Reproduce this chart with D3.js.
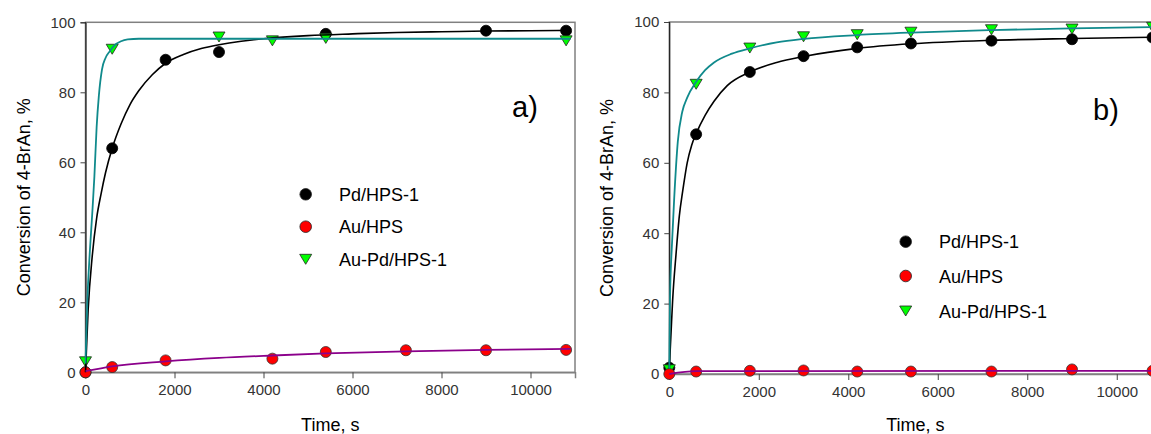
<!DOCTYPE html>
<html>
<head>
<meta charset="utf-8">
<script src="https://cdn.jsdelivr.net/npm/d3@7"></script>
<style>
  html, body { margin: 0; padding: 0; overflow: hidden; background: #fff; }
  text { font-family: Arial, "Liberation Sans", sans-serif; }
</style>
</head>
<body>
<svg width="1151" height="434"></svg>
<script>
// measured points, panel a
const pdTimeA = [0, 600, 1800, 3000, 5400, 9000, 10800]
const pdValA = [0, 64, 89.3, 91.5, 96.7, 97.6, 97.6]
const auTimeA = [0, 600, 1800, 4200, 5400, 7200, 9000, 10800]
const auValA = [0, 1.5, 3.4, 3.9, 5.8, 6.3, 6.3, 6.4]
const aupdTimeA = [0, 600, 3000, 4200, 5400, 10800]
const aupdValA = [3, 92.3, 95.8, 94.7, 95.4, 94.7]

// fitted curves
const pdFitTA = [0, 60, 150, 250, 350, 450, 600, 800, 1000, 1200, 1500, 1800, 2200, 2600, 3000, 3500, 4000, 5000, 6000, 7000, 8000, 9000, 10000, 10900]
const pdFitYA = [0, 18, 33, 44, 51, 57, 64, 71, 76.5, 80.5, 85, 88.3, 90.8, 92.5, 93.6, 94.6, 95.3, 96.2, 96.7, 97.1, 97.3, 97.5, 97.6, 97.7]
const aupdFitTA = [0, 40, 100, 150, 200, 250, 300, 370, 450, 550, 650, 800, 950, 1200, 10900]
const aupdFitYA = [2.5, 20, 35, 45, 56, 70, 79, 86.5, 89.8, 91.8, 93.4, 94.6, 95.1, 95.3, 95.3]
const auFitTA = [0, 600, 1800, 3000, 4200, 5400, 7200, 9000, 10900]
const auFitYA = [0.3, 1.7, 3.1, 4.1, 4.8, 5.4, 6.0, 6.4, 6.7]

// measured points, panel b
const timeB = [0, 600, 1800, 3000, 4200, 5400, 7200, 9000, 10800]
const pdValB = [1.8, 68.1, 85.8, 90.3, 92.8, 93.9, 94.7, 95.1, 95.6]
const auValB = [0, 0.7, 0.9, 1.0, 0.7, 0.7, 0.7, 1.3, 0.9]
const aupdValB = [1.2, 82.3, 92.6, 95.8, 96.4, 97.1, 97.8, 98.0, 98.5]

// fitted curves
const pdFitTB = [0, 40, 75, 150, 225, 300, 400, 500, 600, 800, 1000, 1300, 1800, 2400, 3000, 4200, 5400, 7200, 9000, 10900]
const pdFitYB = [1.5, 12, 21, 34, 45, 52, 60, 65, 68.3, 73.5, 77.5, 82, 85.8, 88.5, 90.2, 92.5, 93.8, 94.8, 95.3, 95.7]
const aupdFitTB = [0, 15, 60, 110, 190, 290, 400, 600, 800, 1000, 1400, 1800, 2400, 3000, 4200, 5400, 7200, 9000, 10900]
const aupdFitYB = [1.5, 21, 37, 50, 66, 74.5, 78.5, 83, 86.3, 88.5, 91, 92.5, 94.2, 95.2, 96.3, 97, 97.7, 98.2, 98.6]
const auFitTB = [0, 600, 10900]
const auFitYB = [0, 0.8, 0.9]

const xTicks = [0, 2000, 4000, 6000, 8000, 10000]
const yTicks = [0, 20, 40, 60, 80, 100]
const seriesNames = ["Pd/HPS-1", "Au/HPS", "Au-Pd/HPS-1"]

const zip = (t, v) => t.map((d, i) => ({ t: d, v: v[i] }))

const panels = [
  {
    label: "a)", left: 85.5, right: 575, top: 22.3, bottom: 372.3,
    pd: zip(pdTimeA, pdValA), au: zip(auTimeA, auValA), aupd: zip(aupdTimeA, aupdValA),
    pdFit: zip(pdFitTA, pdFitYA), auFit: zip(auFitTA, auFitYA), aupdFit: zip(aupdFitTA, aupdFitYA),
    legendX: 305.7, legendY: [194.3, 226.7, 259.3], labelX: 512, labelY: 117, titleX: 30
  },
  {
    label: "b)", left: 669.3, right: 1161.5, top: 22, bottom: 374,
    pd: zip(timeB, pdValB), au: zip(timeB, auValB), aupd: zip(timeB, aupdValB),
    pdFit: zip(pdFitTB, pdFitYB), auFit: zip(auFitTB, auFitYB), aupdFit: zip(aupdFitTB, aupdFitYB),
    legendX: 905.7, legendY: [241.7, 276, 311], labelX: 1093, labelY: 120, titleX: 613
  }
]

const colors = { pd: "#000000", au: "#ff0000", aupd: "#00ff00" }
const lineColors = { pd: "#000000", au: "#8b008b", aupd: "#108a8c" }

const svg = d3.select("svg")

// little down-pointing triangle for the Au-Pd markers
function triangle(x, y) {
  return `M${x - 6},${y - 5}L${x + 6},${y - 5}L${x},${y + 5}Z`
}

panels.forEach(p => {
  const x = d3.scaleLinear().domain([0, 11000]).range([p.left, p.right])
  const y = d3.scaleLinear().domain([0, 100]).range([p.bottom, p.top])
  const g = svg.append("g")

  // frame
  g.append("rect")
    .attr("x", p.left).attr("y", p.top)
    .attr("width", p.right - p.left).attr("height", p.bottom - p.top)
    .attr("fill", "none").attr("stroke", "#808080").attr("stroke-width", 1.5)

  const xAxis = g.append("g")
    .attr("transform", `translate(0,${p.bottom})`)
    .call(d3.axisBottom(x).tickValues(xTicks).tickSize(6).tickPadding(6).tickFormat(d3.format("d")))
  xAxis.select(".domain").attr("stroke", "#808080").attr("stroke-width", 1.5)

  const yAxis = g.append("g")
    .attr("transform", `translate(${p.left},0)`)
    .call(d3.axisLeft(y).tickValues(yTicks).tickSize(5).tickPadding(5))
  yAxis.select(".domain").attr("stroke", "#000")

  g.selectAll(".tick text")
    .attr("fill", "#333")
    .style("font-size", "15px")
  g.selectAll(".tick line").attr("stroke", "#444")

  // markers first, curves on top (as in the original)
  const line = d3.line().x(d => x(d.t)).y(d => y(d.v)).curve(d3.curveMonotoneX)

  g.selectAll(".pd").data(p.pd).join("circle")
    .attr("cx", d => x(d.t)).attr("cy", d => y(d.v)).attr("r", 5.5)
    .attr("fill", colors.pd).attr("stroke", "#000").attr("stroke-width", 0.8)
  g.selectAll(".aupdm").data(p.aupd).join("path")
    .attr("d", d => triangle(x(d.t), y(d.v)))
    .attr("fill", colors.aupd).attr("stroke", "#222").attr("stroke-width", 0.8)
  g.selectAll(".aum").data(p.au).join("circle")
    .attr("cx", d => x(d.t)).attr("cy", d => y(d.v)).attr("r", 5.5)
    .attr("fill", colors.au).attr("stroke", "#333").attr("stroke-width", 0.8)

  g.append("path").datum(p.pdFit).attr("d", line)
    .attr("fill", "none").attr("stroke", lineColors.pd).attr("stroke-width", 1.6)
  g.append("path").datum(p.aupdFit).attr("d", line)
    .attr("fill", "none").attr("stroke", lineColors.aupd).attr("stroke-width", 1.8)
  g.append("path").datum(p.auFit).attr("d", line)
    .attr("fill", "none").attr("stroke", lineColors.au).attr("stroke-width", 1.8)

  // legend
  const keys = ["pd", "au", "aupd"]
  keys.forEach((k, i) => {
    const ly = p.legendY[i]
    if (k === "aupd") {
      g.append("path").attr("d", triangle(p.legendX, ly))
        .attr("fill", colors.aupd).attr("stroke", "#222").attr("stroke-width", 0.8)
    } else {
      g.append("circle").attr("cx", p.legendX).attr("cy", ly).attr("r", 5.8)
        .attr("fill", colors[k]).attr("stroke", "#222").attr("stroke-width", 0.8)
    }
    g.append("text")
      .attr("x", p.legendX + 33.3).attr("y", ly + 6.5)
      .style("font-size", "18px")
      .text(seriesNames[i])
  })

  g.append("text")
    .attr("x", p.labelX).attr("y", p.labelY)
    .style("font-size", "29px")
    .text(p.label)

  g.append("text")
    .attr("x", (p.left + p.right) / 2).attr("y", 431)
    .attr("text-anchor", "middle")
    .style("font-size", "18px")
    .text("Time, s")

  g.append("text")
    .attr("transform", `translate(${p.titleX},${(p.top + p.bottom) / 2}) rotate(-90)`)
    .attr("text-anchor", "middle")
    .style("font-size", "18px")
    .text("Conversion of 4-BrAn, %")
})
</script>
</body>
</html>
